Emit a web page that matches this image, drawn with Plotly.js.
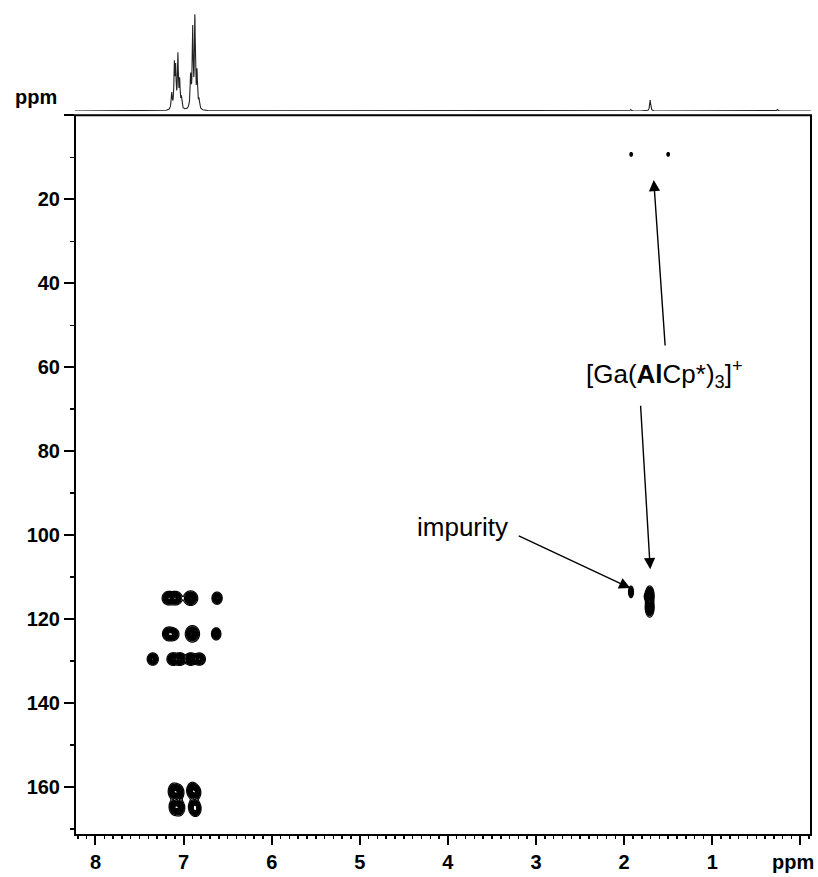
<!DOCTYPE html>
<html><head><meta charset="utf-8">
<script src="https://cdn.plot.ly/plotly-3.0.1.min.js"></script>
<style>html,body{margin:0;padding:0;background:#fff}</style>
</head><body><div id="chart" style="width:818px;height:877px"></div>
<script>
// ---- 1H projection (top trace): line positions (ppm), heights, half-widths
const h1Shift  = [7.135, 7.105, 7.090, 7.065, 7.045, 7.025, 6.920, 6.897, 6.872, 6.848, 6.825, 1.705, 1.925, 0.26];
const h1Height = [16,    43,    38,    53,    27,    11,    32,    78,    90,    35,    9,     11,    1.5,   1.5];
const h1Width  = [0.007, 0.006, 0.006, 0.006, 0.006, 0.007, 0.007, 0.006, 0.006, 0.006, 0.007, 0.007, 0.007, 0.007];

// ---- 2D cross peaks: 1H ppm, 13C ppm, amplitude, widths, cluster group
const peakH   = [7.17, 7.09, 6.92, 6.62, 7.17, 7.12, 6.90, 6.63, 7.35, 7.12, 7.04, 6.92, 6.82, 7.11, 7.06, 7.10, 7.05, 6.90, 6.86, 6.88, 6.86, 1.71, 1.71, 1.745, 1.922, 1.92, 1.50];
const peakC   = [115.0, 115.0, 115.0, 115.0, 123.5, 123.6, 123.5, 123.5, 129.5, 129.5, 129.5, 129.5, 129.5, 161.0, 161.3, 164.7, 164.9, 160.8, 161.3, 164.7, 165.2, 114.4, 117.2, 114.6, 113.5, 9.3, 9.3];
const peakAmp = [1, 1, 1, 0.85, 1, 0.9, 1, 0.85, 0.9, 1, 1, 1, 0.9, 1, 0.9, 1, 0.9, 1, 0.8, 1, 0.8, 1, 1, 0.4, 0.5, 0.25, 0.25];
const peakSH  = [0.032, 0.032, 0.035, 0.026, 0.03, 0.03, 0.035, 0.024, 0.028, 0.03, 0.03, 0.03, 0.03, 0.028, 0.028, 0.028, 0.028, 0.028, 0.025, 0.028, 0.025, 0.022, 0.022, 0.013, 0.014, 0.009, 0.009];
const peakSC  = [0.7, 0.7, 0.75, 0.65, 0.7, 0.65, 0.85, 0.65, 0.65, 0.65, 0.65, 0.65, 0.65, 0.85, 0.85, 0.85, 0.85, 0.85, 0.75, 0.85, 0.75, 1.0, 1.0, 0.45, 0.7, 0.28, 0.28];
const peakGroup = ['a','a','a','a','a','a','a','a','a','a','a','a','a','a','a','a','a','a','a','a','a','b','b','b','b','c','c'];

// ---- axis ticks
const xTickVals = [8, 7, 6, 5, 4, 3, 2, 1, 0];
const xTickText = ['8', '7', '6', '5', '4', '3', '2', '1', ''];
const yTickVals = [0, 20, 40, 60, 80, 100, 120, 140, 160];
const yTickText = ['', '20', '40', '60', '80', '100', '120', '140', '160'];
const unitLabel = 'ppm';

const X_RANGE = [8.2325, -0.121];
const Y_RANGE = [171.4, 0];
const FONT = 'Liberation Sans, Arial, Helvetica, sans-serif';

// 1D trace built from the line list
const specX = [], specY = [];
for (let x = X_RANGE[0]; x >= X_RANGE[1]; x -= 0.002) {
  let s = 0;
  for (let k = 0; k < h1Shift.length; k++) {
    const d = x - h1Shift[k], w = h1Width[k];
    s += h1Height[k] * w * w / (d * d + w * w);
  }
  specX.push(x); specY.push(s);
}

const traces = [{
  type: 'scatter', mode: 'lines', x: specX, y: specY, xaxis: 'x', yaxis: 'y2',
  line: {color: '#222', width: 1.1}, hoverinfo: 'skip', showlegend: false
}];

// contour grids, one per cluster
const groups = [...new Set(peakGroup)];
groups.forEach(g => {
  const idx = peakGroup.map((v, i) => v === g ? i : -1).filter(i => i >= 0);
  let x0 = Infinity, x1 = -Infinity, y0 = Infinity, y1 = -Infinity;
  idx.forEach(i => {
    x0 = Math.min(x0, peakH[i] - 5 * peakSH[i]); x1 = Math.max(x1, peakH[i] + 5 * peakSH[i]);
    y0 = Math.min(y0, peakC[i] - 5 * peakSC[i]); y1 = Math.max(y1, peakC[i] + 5 * peakSC[i]);
  });
  const gx = [], gy = [];
  for (let x = x0; x <= x1; x += 0.004) gx.push(x);
  for (let y = y0; y <= y1; y += 0.12) gy.push(y);
  const z = gy.map(y => gx.map(x => {
    let s = 0;
    idx.forEach(i => {
      const dx = (x - peakH[i]) / peakSH[i], dy = (y - peakC[i]) / peakSC[i];
      s += peakAmp[i] * Math.exp(-0.5 * (dx * dx + dy * dy));
    });
    return s;
  }));
  traces.push({
    type: 'contour', x: gx, y: gy, z: z, xaxis: 'x', yaxis: 'y',
    autocontour: false,
    contours: {coloring: 'none', start: 0.07, end: 1.2, size: 0.07, showlines: true},
    line: {color: '#000', width: 1.2, smoothing: 0},
    showscale: false, hoverinfo: 'skip', showlegend: false
  });
});

const H = 835; // plotting height in px (margin.t = 0)
const mainTop = (H - 115.3) / H;
const specBottom = (H - 111) / H;

const arrowCommon = {showarrow: true, arrowhead: 2, arrowsize: 1.6, arrowwidth: 1.4, arrowcolor: '#000', text: '', xref: 'x', yref: 'y'};

const layout = {
  width: 818, height: 877,
  margin: {l: 75, r: 7, t: 0, b: 42},
  paper_bgcolor: '#fff', plot_bgcolor: 'rgba(0,0,0,0)',
  showlegend: false,
  font: {family: FONT, color: '#000'},
  xaxis: {
    range: X_RANGE, anchor: 'y', showgrid: false, zeroline: false, showline: false,
    tickmode: 'array', tickvals: xTickVals, ticktext: xTickText,
    ticks: 'outside', ticklen: 9, tickwidth: 2, tickcolor: '#000',
    tickfont: {family: FONT, size: 20, weight: 'bold', color: '#000'},
    minor: {tickmode: 'linear', tick0: 0, dtick: 0.1, ticks: 'outside', ticklen: 3, tickwidth: 1.5, tickcolor: '#000', showgrid: false}
  },
  yaxis: {
    domain: [0, mainTop], range: Y_RANGE, anchor: 'x', showgrid: false, zeroline: false, showline: false,
    tickmode: 'array', tickvals: yTickVals, ticktext: yTickText,
    ticks: 'outside', ticklen: 10, tickwidth: 2, tickcolor: '#000',
    tickfont: {family: FONT, size: 20, weight: 'bold', color: '#000'},
    minor: {tickmode: 'linear', tick0: 0, dtick: 10, ticks: 'outside', ticklen: 4, tickwidth: 1.5, tickcolor: '#000', showgrid: false}
  },
  yaxis2: {domain: [specBottom, 1], range: [0, 111], anchor: 'x', visible: false, fixedrange: true},
  shapes: [{type: 'rect', xref: 'paper', yref: 'paper', x0: 0, x1: 1, y0: 0, y1: mainTop, line: {color: '#000', width: 2}}],
  annotations: [
    {xref: 'paper', yref: 'paper', x: -0.053, y: (H - 97) / H, text: unitLabel, showarrow: false,
     font: {family: FONT, size: 20, weight: 'bold'}, xanchor: 'center', yanchor: 'middle'},
    {xref: 'paper', yref: 'paper', x: (792 - 75) / 735.4, y: (H - 862) / H, text: unitLabel, showarrow: false,
     font: {family: FONT, size: 20, weight: 'bold'}, xanchor: 'center', yanchor: 'middle'},
    {xref: 'x', yref: 'y', x: 1.545, y: 61.6, text: '[Ga(<b>Al</b>Cp*)<sub>3</sub>]<sup>+</sup>', showarrow: false,
     font: {family: FONT, size: 26}, xanchor: 'center', yanchor: 'middle'},
    {xref: 'x', yref: 'y', x: 3.294, y: 98.0, text: 'impurity', showarrow: false,
     font: {family: FONT, size: 26}, xanchor: 'right', yanchor: 'middle'},
    Object.assign({x: 1.664, y: 15.4, ax: 11.5, ay: 167}, arrowCommon),
    Object.assign({x: 1.704, y: 108.1, ax: -9.7, ay: -165}, arrowCommon),
    Object.assign({x: 1.93, y: 112.6, ax: -113, ay: -53}, arrowCommon)
  ]
};

Plotly.newPlot('chart', traces, layout, {staticPlot: true, displayModeBar: false});
</script></body></html>
